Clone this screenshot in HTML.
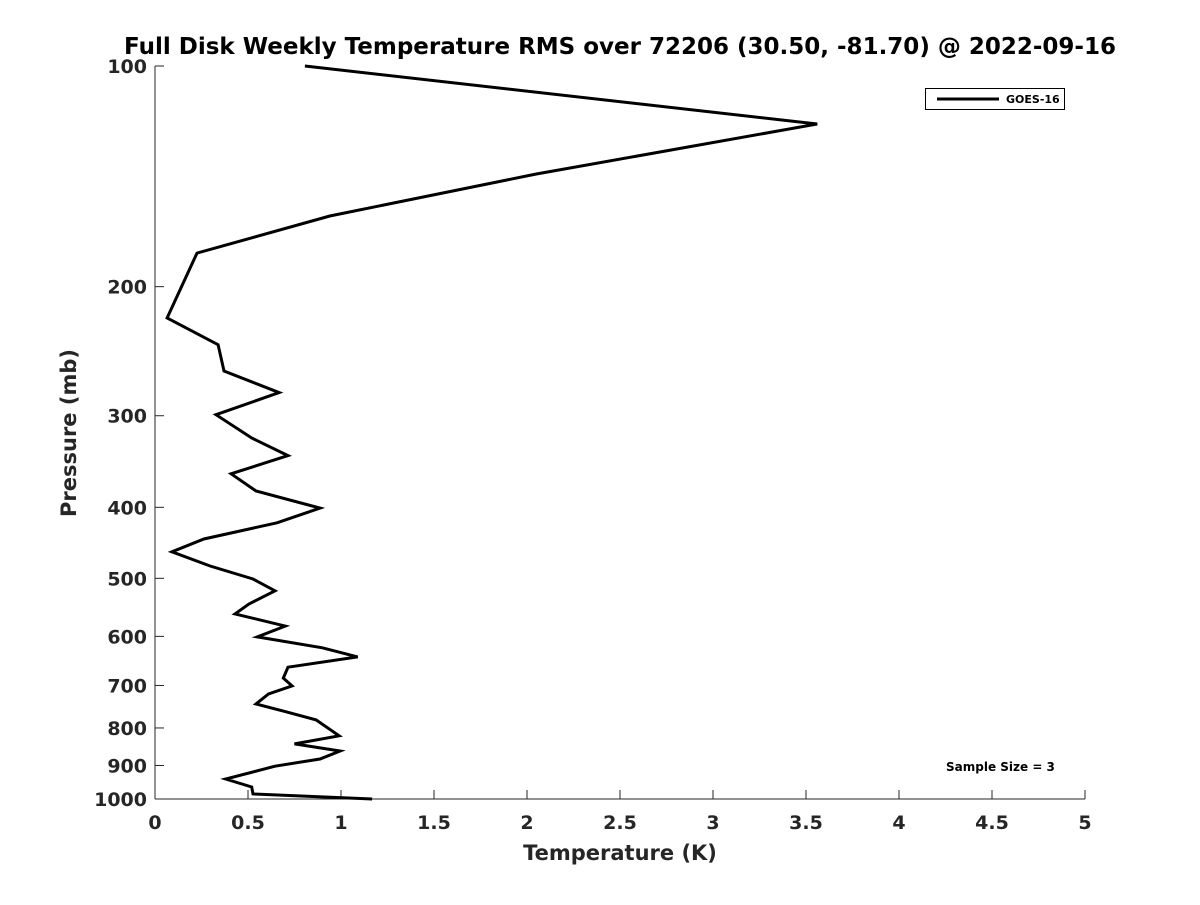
<!DOCTYPE html>
<html><head><meta charset="utf-8"><style>
html,body{margin:0;padding:0;background:#fff;}
svg text{font-family:"DejaVu Sans","Liberation Sans",sans-serif;font-weight:bold;fill:#262626;}
</style></head><body>
<svg id="chart" width="1200" height="900" viewBox="0 0 1200 900">
<text x="620" y="54" text-anchor="middle" font-size="23" style="fill:#000">Full Disk Weekly Temperature RMS over 72206 (30.50, -81.70) @ 2022-09-16</text>
<g id="axes"></g>
<path id="series" fill="none" stroke="#000" stroke-width="3" stroke-linejoin="miter"></path>
<text x="620" y="860" text-anchor="middle" font-size="21">Temperature (K)</text>
<text transform="translate(76,433) rotate(-90)" text-anchor="middle" font-size="21">Pressure (mb)</text>
<g>
<rect x="925.5" y="88.5" width="139" height="21" fill="#fff" stroke="#000" stroke-width="1"/>
<line x1="937" y1="99" x2="999" y2="99" stroke="#000" stroke-width="3"/>
<text x="1006" y="103" font-size="11" style="fill:#000">GOES-16</text>
</g>
<text x="946" y="771" font-size="12" style="fill:#000">Sample Size = 3</text>
</svg>
<script>
const temps = [0.806,3.56,2.05,0.94,0.226,0.065,0.339,0.371,0.667,0.328,0.52,0.715,0.409,0.543,0.887,0.656,0.263,0.091,0.296,0.527,0.645,0.505,0.43,0.70,0.55,0.90,1.09,0.715,0.69,0.737,0.61,0.543,0.70,0.866,0.99,0.75,0.995,0.887,0.645,0.38,0.52,0.527,1.167];
const pressures = [100,120,140.4,160.2,180,220.7,240,260.7,279,299,321.7,340,360,380,401,420,441.8,460,481,501,520,542,559,581,601,622,640,661,684,701,719,742,760,780,820,841,860,882,902,939,963,984,1000];
const xTicks = [0,0.5,1,1.5,2,2.5,3,3.5,4,4.5,5];
const xTickLabels = ["0","0.5","1","1.5","2","2.5","3","3.5","4","4.5","5"];
const yTicks = [100,200,300,400,500,600,700,800,900,1000];
const yTickLabels = ["100","200","300","400","500","600","700","800","900","1000"];

const X0=155,X1=1085,Y0=66,Y1=799;
const xs = v => X0 + (v-0)/(5-0)*(X1-X0);
const ys = p => Y0 + (Math.log10(p)-2)/(3-2)*(Y1-Y0);
const NS="http://www.w3.org/2000/svg";
const axes=document.getElementById('axes');
function mk(t,a){const e=document.createElementNS(NS,t);for(const k in a)e.setAttribute(k,a[k]);return e;}
let e=mk('line',{x1:X0,y1:Y1,x2:X1,y2:Y1,stroke:'#262626','stroke-width':1});


axes.appendChild(e);
e=mk('line',{x1:X0,y1:Y0,x2:X0,y2:Y1,stroke:'#262626','stroke-width':1});


axes.appendChild(e);
xTicks.forEach((v,i)=>{
  const x=xs(v);
  let t=mk('line',{x1:x,y1:Y1,x2:x,y2:Y1-9,stroke:'#262626','stroke-width':1});
  
  
  axes.appendChild(t);
  let l=mk('text',{x:x,y:Y1+30,'text-anchor':'middle','font-size':19});
  l.textContent=xTickLabels[i];
  
  
  axes.appendChild(l);
});
yTicks.forEach((p,i)=>{
  const y=ys(p);
  let t=mk('line',{x1:X0,y1:y,x2:X0+9,y2:y,stroke:'#262626','stroke-width':1});
  
  
  axes.appendChild(t);
  let l=mk('text',{x:X0-8,y:y+7,'text-anchor':'end','font-size':19});
  l.textContent=yTickLabels[i];
  
  
  axes.appendChild(l);
});
document.getElementById('series').setAttribute('d',temps.map((t,i)=>(i?'L':'M')+xs(t).toFixed(1)+','+ys(pressures[i]).toFixed(1)).join(' '));
</script>
</body></html>
